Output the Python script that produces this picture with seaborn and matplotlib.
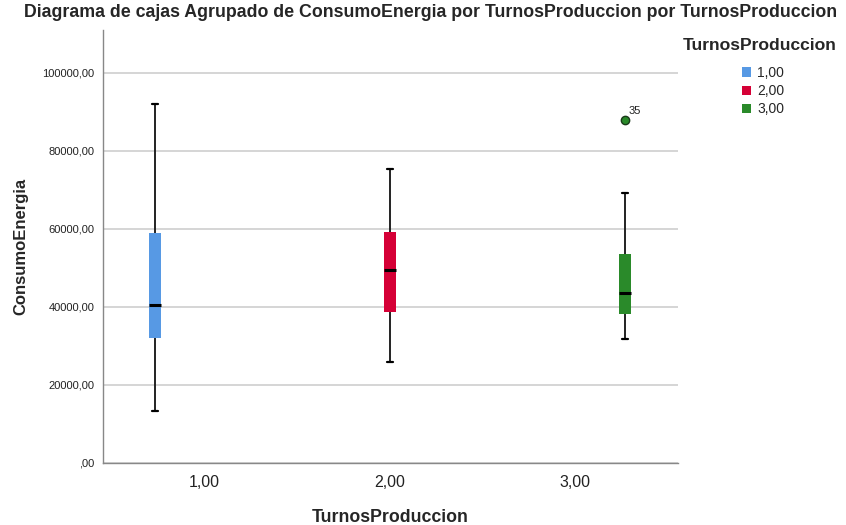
import pandas as pd
import matplotlib
matplotlib.use("Agg")
import matplotlib.pyplot as plt
import seaborn as sns
from matplotlib.ticker import FuncFormatter
from matplotlib.patches import Patch

# Five-number summaries
turnos = ["1,00", "2,00", "3,00"]
whisker_low = [13300, 25900, 31800]
q1 = [32000, 38700, 38200]
median = [40500, 49500, 43600]
q3 = [59000, 59200, 53600]
whisker_high = [92000, 75400, 69200]
outliers = [[], [], [88000]]
outlier_ids = [[], [], ["35"]]
colors = ["#5799E4", "#D50036", "#2A8A2A"]

# Build a minimal dataset whose quartiles/whiskers reproduce the summaries
rows = []
for i, t in enumerate(turnos):
    vals = [whisker_low[i], q1[i], q1[i], median[i], median[i], q3[i], q3[i], whisker_high[i]] + outliers[i]
    for v in vals:
        rows.append({"TurnosProduccion": t, "ConsumoEnergia": v})
df = pd.DataFrame(rows)

sns.set_style("white")
plt.rcParams["font.family"] = ["Liberation Sans", "DejaVu Sans"]

fig, ax = plt.subplots(figsize=(8.46, 5.25), dpi=100)
fig.subplots_adjust(left=0.1217, right=0.8014, bottom=0.1181, top=0.9429)

box_width = 0.81
sns.boxplot(data=df, x="TurnosProduccion", y="ConsumoEnergia", hue="TurnosProduccion",
            order=turnos, hue_order=turnos, palette=colors, saturation=1,
            dodge=True, width=box_width, gap=0.76, linecolor="black",
            boxprops=dict(linewidth=0),
            medianprops=dict(color="black", linewidth=2.2),
            whiskerprops=dict(color="#222222", linewidth=1.4),
            capprops=dict(color="black", linewidth=1.6),
            flierprops=dict(marker="o", markerfacecolor=colors[2], markeredgecolor="#1a3a1a",
                            markersize=6, markeredgewidth=1),
            ax=ax, zorder=3)

# outlier case labels
step = box_width / len(turnos)
for i, t in enumerate(turnos):
    off = (i - (len(turnos) - 1) / 2) * step
    for v, lab in zip(outliers[i], outlier_ids[i]):
        ax.annotate(lab, xy=(i + off, v), xytext=(3, 4), textcoords="offset points",
                    fontsize=8, color="#222222")

ax.set_xlim(-0.55, 2.557)
ax.set_ylim(0, 111000)
ax.set_yticks([0, 20000, 40000, 60000, 80000, 100000])
ax.yaxis.set_major_formatter(FuncFormatter(lambda v, p: ",00" if v == 0 else f"{v:.2f}".replace(".", ",")))
ax.grid(axis="y", color="#d2d2d2", linewidth=1.3, zorder=0)
ax.set_axisbelow(True)
for s in ["top", "right"]:
    ax.spines[s].set_visible(False)
for s in ["left", "bottom"]:
    ax.spines[s].set_color("#888888")
    ax.spines[s].set_linewidth(1.0)
ax.tick_params(axis="y", labelsize=8, colors="#222222", length=0, pad=6)
ax.tick_params(axis="x", labelsize=11.5, colors="#222222", length=0, pad=9)

ax.set_xlabel("TurnosProduccion", fontsize=12.8, fontweight="bold", labelpad=13)
ax.set_ylabel("ConsumoEnergia", fontsize=12, fontweight="bold", labelpad=10)
fig.suptitle("Diagrama de cajas Agrupado de ConsumoEnergia por TurnosProduccion por TurnosProduccion",
             x=0.509, y=0.992, fontsize=12.8, fontweight="bold")

if ax.get_legend() is not None:
    ax.get_legend().remove()
fig.text(760 / 846, 1 - 46 / 525, "TurnosProduccion", ha="center", va="center",
         fontsize=12.6, fontweight="bold")
handles = [Patch(facecolor=c, edgecolor="none") for c in colors]
fig.legend(handles, turnos, loc="upper left",
           bbox_to_anchor=(735 / 846, 1 - 59 / 525), frameon=False, borderpad=0,
           handlelength=0.65, handleheight=0.65, handletextpad=0.45, labelspacing=0.3,
           fontsize=10)

fig.savefig("out.png", dpi=100)
